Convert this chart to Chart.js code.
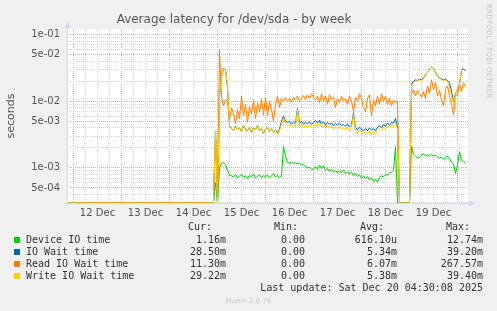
<!DOCTYPE html>
<html>
<head>
<meta charset="utf-8">
<title>Average latency for /dev/sda - by week</title>
<script src="https://cdn.jsdelivr.net/npm/chart.js@4.4.1/dist/chart.umd.min.js"></script>
<style>
  body { margin: 0; background: #f0f0f0; }
  #box { position: relative; width: 497px; height: 311px; overflow: hidden; }
  #chart { position: absolute; left: 0; top: 0; }
  .row { position: absolute; left: 0; width: 497px; height: 12px; line-height: 12px;
         font: 10px "DejaVu Sans Mono", monospace; color: #333; white-space: pre; }
  .row span { position: absolute; top: 0; }
  .row .sw { left: 14px; top: 3px; width: 6px; height: 6px; }
  #munin { position: absolute; top: 297px; left: 0; width: 497px; text-align: center;
           font: 7px "DejaVu Sans", sans-serif; color: #c8c8c8; }
  #rrd { position: absolute; left: 485px; top: 4px; writing-mode: vertical-rl;
         font: 7px "DejaVu Sans", sans-serif; color: #c8c8c8; letter-spacing: 0.2px; }
</style>
</head>
<body>
<div id="box">
  <canvas id="chart" width="497" height="311"></canvas>
  <div id="rrd">RRDTOOL / TOBI OETIKER</div>
  <div id="legend"></div>
  <div id="munin">Munin 2.0.76</div>
</div>
<script>
// Hours since 12 Dec 00:00; the first sample stands for the zero readings before the disk appeared
const hours = [-4];
for (let h = 70; h <= 196; h++) hours.push(h);

const deviceIO = [0,
  0, 6.0e-4,
  0, 1.0e-3, 1.18e-3, 1.2e-3, 1.12e-3, 9.0e-4, 7.8e-4, 7.6e-4, 7.3e-4, 7.9e-4, 7.1e-4, 7.5e-4,
  8.0e-4, 7.2e-4, 7.6e-4, 6.9e-4, 7.7e-4, 7.4e-4, 8.1e-4, 7.0e-4, 7.5e-4, 7.8e-4, 7.2e-4, 7.6e-4,
  7.4e-4, 7.8e-4, 7.1e-4, 7.6e-4, 8.2e-4, 7.3e-4, 7.7e-4, 7.2e-4, 7.5e-4, 2.1e-3, 1.5e-3, 1.2e-3,
  1.18e-3, 1.2e-3, 1.17e-3, 1.19e-3, 1.15e-3, 1.18e-3, 1.1e-3, 1.12e-3, 1.05e-3, 1.0e-3, 1.02e-3, 9.5e-4,
  9.6e-4, 1.05e-3, 9.4e-4, 1.1e-3, 9.8e-4, 1.08e-3, 9.2e-4, 9.8e-4, 8.8e-4, 9.5e-4, 8.6e-4, 9.2e-4,
  8.4e-4, 9.0e-4, 8.5e-4, 9.3e-4, 8.2e-4, 8.7e-4, 8.0e-4, 8.6e-4, 7.6e-4, 8.3e-4, 7.4e-4, 7.9e-4,
  7.0e-4, 7.6e-4, 6.9e-4, 7.4e-4, 6.6e-4, 7.1e-4, 6.3e-4, 6.8e-4, 6.1e-4, 7.2e-4, 7.6e-4, 7.3e-4,
  8.0e-4, 7.7e-4, 8.4e-4, 8.6e-4, 9.2e-4, 2.1e-3, 0, 0, 0, 0, 0, 0,
  0, 2.1e-3, 1.6e-3, 1.5e-3, 1.4e-3, 1.45e-3, 1.55e-3, 1.62e-3, 1.5e-3, 1.58e-3, 1.52e-3, 1.6e-3,
  1.5e-3, 1.56e-3, 1.45e-3, 1.4e-3, 1.45e-3, 1.35e-3, 1.42e-3, 1.5e-3, 1.38e-3, 1.2e-3, 1.15e-3, 8.3e-4,
  1.1e-3, 1.75e-3, 1.3e-3, 1.25e-3, 1.16e-3];

const ioWait = [0,
  0, 3.7e-3,
  0, 1.2e-2, 2.4e-2, 3.1e-2, 3.0e-2, 1.6e-2, 4.3e-3, 3.9e-3, 3.6e-3, 4.2e-3, 3.7e-3, 4.0e-3,
  3.5e-3, 4.3e-3, 3.8e-3, 3.6e-3, 4.1e-3, 3.4e-3, 4.0e-3, 3.7e-3, 4.4e-3, 3.6e-3, 3.9e-3, 3.3e-3,
  3.8e-3, 4.1e-3, 3.5e-3, 3.9e-3, 3.4e-3, 3.7e-3, 3.3e-3, 3.8e-3, 5.0e-3, 6.0e-3, 5.1e-3, 4.8e-3,
  5.0e-3, 4.5e-3, 4.9e-3, 4.6e-3, 7.8e-3, 4.7e-3, 5.0e-3, 4.5e-3, 4.8e-3, 4.6e-3, 4.9e-3, 4.5e-3,
  4.8e-3, 5.1e-3, 4.7e-3, 5.2e-3, 4.6e-3, 4.9e-3, 4.4e-3, 4.8e-3, 4.5e-3, 4.7e-3, 4.3e-3, 4.6e-3,
  4.4e-3, 4.7e-3, 4.3e-3, 4.5e-3, 4.2e-3, 4.6e-3, 4.1e-3, 4.4e-3, 6.8e-3, 4.0e-3, 3.7e-3, 4.1e-3,
  3.8e-3, 3.6e-3, 3.9e-3, 3.6e-3, 4.0e-3, 3.7e-3, 3.9e-3, 3.6e-3, 4.1e-3, 4.3e-3, 4.0e-3, 4.5e-3,
  4.2e-3, 4.7e-3, 4.4e-3, 4.8e-3, 4.7e-3, 5.5e-3, 4.2e-3, 0, 0, 0, 0, 0,
  0, 1.8e-2, 2.0e-2, 2.1e-2, 2.05e-2, 2.15e-2, 2.1e-2, 2.25e-2, 2.5e-2, 2.7e-2, 3.1e-2, 3.3e-2,
  3.1e-2, 2.75e-2, 2.4e-2, 2.25e-2, 2.15e-2, 2.1e-2, 2.15e-2, 2.05e-2, 1.9e-2, 1.4e-2, 1.0e-2, 1.3e-2,
  1.5e-2, 1.8e-2, 2.9e-2, 3.1e-2, 2.85e-2];

const readWait = [0,
  0, 3.5e-3,
  0, 6.0e-2, 1.15e-2, 8.5e-3, 1.05e-2, 1.0e-2, 5.2e-3, 8.0e-3, 6.5e-3, 4.6e-3, 7.5e-3, 5.5e-3,
  1.2e-2, 6.0e-3, 9.0e-3, 4.8e-3, 8.5e-3, 6.5e-3, 1.05e-2, 5.5e-3, 9.5e-3, 7.0e-3, 1.1e-2, 6.2e-3,
  1.15e-2, 6.0e-3, 1.0e-2, 7.5e-3, 5.0e-3, 9.0e-3, 1.2e-2, 8.0e-3, 1.1e-2, 1.0e-2, 1.15e-2, 1.0e-2,
  1.1e-2, 9.8e-3, 1.15e-2, 1.05e-2, 1.2e-2, 1.0e-2, 1.1e-2, 1.22e-2, 1.05e-2, 1.25e-2, 1.1e-2, 1.3e-2,
  1.15e-2, 1.05e-2, 1.2e-2, 9.5e-3, 1.3e-2, 1.0e-2, 1.2e-2, 9.0e-3, 1.25e-2, 1.05e-2, 1.15e-2, 8.0e-3,
  1.1e-2, 9.5e-3, 1.2e-2, 1.0e-2, 1.1e-2, 9.0e-3, 1.2e-2, 1.0e-2, 7.0e-3, 1.15e-2, 1.0e-2, 1.3e-2,
  1.1e-2, 8.0e-3, 7.0e-3, 1.1e-2, 1.25e-2, 6.0e-3, 1.05e-2, 8.5e-3, 1.2e-2, 9.0e-3, 1.3e-2, 1.0e-2,
  1.2e-2, 9.0e-3, 1.1e-2, 8.5e-3, 1.05e-2, 9.5e-3, 1.0e-2, 0, 0, 0, 0, 0,
  0, 1.3e-2, 1.5e-2, 1.2e-2, 1.45e-2, 1.3e-2, 1.15e-2, 1.4e-2, 1.1e-2, 1.7e-2, 1.3e-2, 2.1e-2,
  1.5e-2, 1.9e-2, 1.2e-2, 1.45e-2, 1.05e-2, 8.5e-3, 1.5e-2, 1.7e-2, 1.2e-2, 9.0e-3, 6.2e-3, 1.3e-2,
  1.2e-2, 1.8e-2, 1.4e-2, 1.9e-2, 1.65e-2];

const writeWait = [0,
  0, 3.7e-3,
  0, 1.2e-2, 2.4e-2, 3.1e-2, 3.0e-2, 1.6e-2, 4.3e-3, 3.9e-3, 3.6e-3, 4.2e-3, 3.7e-3, 4.0e-3,
  3.5e-3, 4.3e-3, 3.8e-3, 3.6e-3, 4.1e-3, 3.4e-3, 4.0e-3, 3.7e-3, 4.4e-3, 3.6e-3, 3.9e-3, 3.3e-3,
  3.8e-3, 4.1e-3, 3.5e-3, 3.9e-3, 3.4e-3, 3.7e-3, 3.2e-3, 3.6e-3, 4.6e-3, 5.6e-3, 4.6e-3, 4.3e-3,
  4.5e-3, 4.0e-3, 4.4e-3, 4.1e-3, 7.5e-3, 4.2e-3, 4.5e-3, 4.0e-3, 4.3e-3, 4.1e-3, 4.4e-3, 4.0e-3,
  4.3e-3, 4.6e-3, 4.2e-3, 4.8e-3, 4.1e-3, 4.4e-3, 3.9e-3, 4.3e-3, 4.0e-3, 4.2e-3, 3.8e-3, 4.1e-3,
  3.9e-3, 4.3e-3, 3.8e-3, 4.0e-3, 3.7e-3, 4.1e-3, 3.6e-3, 3.9e-3, 6.5e-3, 3.6e-3, 3.3e-3, 3.7e-3,
  3.4e-3, 3.2e-3, 3.5e-3, 3.2e-3, 3.6e-3, 3.3e-3, 3.5e-3, 3.2e-3, 3.7e-3, 3.9e-3, 3.6e-3, 4.1e-3,
  3.8e-3, 4.3e-3, 4.0e-3, 4.4e-3, 4.2e-3, 4.6e-3, 3.8e-3, 0, 0, 0, 0, 0,
  0, 1.7e-2, 1.9e-2, 2.05e-2, 2.0e-2, 2.1e-2, 2.05e-2, 2.2e-2, 2.5e-2, 2.7e-2, 3.1e-2, 3.3e-2,
  3.1e-2, 2.75e-2, 2.4e-2, 2.2e-2, 2.1e-2, 2.05e-2, 2.1e-2, 1.95e-2, 1.6e-2, 1.2e-2, 9.5e-3, 1.3e-2,
  1.5e-2, 1.8e-2, 3.0e-2, 3.2e-2, 2.92e-2];

const seriesNames = ["Device IO time", "IO Wait time", "Read IO Wait time", "Write IO Wait time"];
const seriesColors = ["#00cc00", "#0066b3", "#ff8000", "#ffcc00"];
const curText = ["1.16m", "28.50m", "11.30m", "29.22m"];
const minText = ["0.00", "0.00", "0.00", "0.00"];
const avgText = ["616.10u", "5.34m", "6.07m", "5.38m"];
const maxText = ["12.74m", "39.20m", "267.57m", "39.40m"];

const dayLabels = ["12 Dec", "13 Dec", "14 Dec", "15 Dec", "16 Dec", "17 Dec", "18 Dec", "19 Dec"];
const yLabelValues = [1e-1, 5e-2, 1e-2, 5e-3, 1e-3, 5e-4];
const yLabelTexts = ["1e-01", "5e-02", "1e-02", "5e-03", "1e-03", "5e-04"];

const xMin = -3.25, xMax = 197.25;
const yMin = 2.97e-4, yMax = 0.1216;
const axisColor = "#cfd6f8";
const majorGrid = "#e8a3a3";
const minorGrid = "#d4d4d4";

// grid positions: every 6h on x, 1..9 per decade on y
const xTicks = [];
for (let h = 0; h <= 192; h += 6) xTicks.push(h);
const yTicks = [];
for (let e = -4; e <= -1; e++) {
  for (let m = 1; m <= 9; m++) {
    const v = m * Math.pow(10, e);
    if (v >= yMin && v <= yMax) yTicks.push(v);
  }
}
const yLabelIndex = v => yLabelValues.findIndex(l => Math.abs(v - l) / l < 1e-6);

// rrdtool puts zero at the floor of a log axis
const toPoints = vals => vals.map((v, i) => ({ x: hours[i], y: v === 0 ? yMin : v }));

const rrdLook = {
  id: "rrdLook",
  beforeDraw(chart) {
    const { ctx, chartArea: a } = chart;
    ctx.save();
    ctx.fillStyle = "#ffffff";
    ctx.fillRect(a.left, a.top, a.right - a.left, a.bottom - a.top);
    ctx.restore();
  },
  afterDraw(chart) {
    const { ctx, chartArea: a } = chart;
    const x = Math.round(a.left) + 0.5, y = Math.round(a.bottom) + 0.5;
    ctx.save();
    ctx.strokeStyle = axisColor;
    ctx.fillStyle = axisColor;
    ctx.lineWidth = 1;
    ctx.beginPath();
    ctx.moveTo(x, a.bottom + 3); ctx.lineTo(x, a.top - 2);
    ctx.moveTo(a.left - 3, y); ctx.lineTo(a.right + 2, y);
    ctx.stroke();
    ctx.beginPath();
    ctx.moveTo(x, a.top - 7); ctx.lineTo(x - 3, a.top - 1); ctx.lineTo(x + 3, a.top - 1);
    ctx.closePath(); ctx.fill();
    ctx.beginPath();
    ctx.moveTo(a.right + 7, y); ctx.lineTo(a.right + 1, y - 3); ctx.lineTo(a.right + 1, y + 3);
    ctx.closePath(); ctx.fill();
    ctx.restore();
  }
};

const order = [3, 2, 1, 0];
const allSeries = [deviceIO, ioWait, readWait, writeWait];

new Chart(document.getElementById("chart"), {
  type: "line",
  data: {
    datasets: allSeries.map((vals, i) => ({
      label: seriesNames[i],
      data: toPoints(vals),
      borderColor: seriesColors[i],
      borderWidth: 1,
      pointRadius: 0,
      tension: 0,
      order: order[i],
    })),
  },
  options: {
    responsive: false,
    animation: false,
    events: [],
    layout: { padding: { left: 0, top: 0, right: 29, bottom: 88 } },
    plugins: {
      legend: { display: false },
      tooltip: { enabled: false },
      title: {
        display: true,
        text: "Average latency for /dev/sda - by week",
        color: "#555",
        font: { family: "DejaVu Sans", size: 12, weight: "normal" },
        padding: { top: 13, bottom: 1.6 },
      },
    },
    scales: {
      x: {
        type: "linear",
        min: xMin,
        max: xMax,
        bounds: "data",
        afterBuildTicks: s => { s.ticks = xTicks.map(v => ({ value: v })); },
        afterFit: s => { s.height = 20; },
        ticks: {
          autoSkip: false,
          maxRotation: 0,
          padding: 4,
          color: "#555",
          font: { family: "DejaVu Sans", size: 10 },
          callback: v => (v % 24 === 12 ? dayLabels[(v - 12) / 24] : ""),
        },
        grid: {
          drawTicks: false,
          color: c => (c.tick && c.tick.value % 24 === 0 ? majorGrid : minorGrid),
        },
        border: { display: false, dash: [1, 1] },
      },
      y: {
        type: "logarithmic",
        min: yMin,
        max: yMax,
        bounds: "data",
        afterBuildTicks: s => { s.ticks = yTicks.map(v => ({ value: v })); },
        afterFit: s => { s.width = 67; },
        title: {
          display: true,
          text: "seconds",
          color: "#555",
          font: { family: "DejaVu Sans", size: 11 },
          padding: { top: 5, bottom: 0 },
        },
        ticks: {
          autoSkip: false,
          padding: 7,
          color: "#555",
          font: { family: "DejaVu Sans", size: 10 },
          callback: v => { const k = yLabelIndex(v); return k >= 0 ? yLabelTexts[k] : ""; },
        },
        grid: {
          drawTicks: false,
          color: c => (c.tick && yLabelIndex(c.tick.value) >= 0 ? majorGrid : minorGrid),
        },
        border: { display: false, dash: [1, 1] },
      },
    },
  },
  plugins: [rrdLook],
});

// legend table under the graph
const legend = document.getElementById("legend");
const colRight = [271, 192, 100, 14];
const headRight = [285, 199, 113, 27];
const addRow = (top, html) => {
  const d = document.createElement("div");
  d.className = "row";
  d.style.top = top + "px";
  d.innerHTML = html;
  legend.appendChild(d);
};
addRow(221, ["Cur:", "Min:", "Avg:", "Max:"].map((t, j) => `<span style="right:${headRight[j]}px">${t}</span>`).join(""));
seriesNames.forEach((name, i) => {
  const cells = [curText[i], minText[i], avgText[i], maxText[i]]
    .map((t, j) => `<span style="right:${colRight[j]}px">${t}</span>`).join("");
  addRow(234 + i * 12,
    `<span class="sw" style="background:${seriesColors[i]}"></span><span style="left:26px">${name}</span>${cells}`);
});
addRow(282, `<span style="right:14px">Last update: Sat Dec 20 04:30:08 2025</span>`);
</script>
</body>
</html>
